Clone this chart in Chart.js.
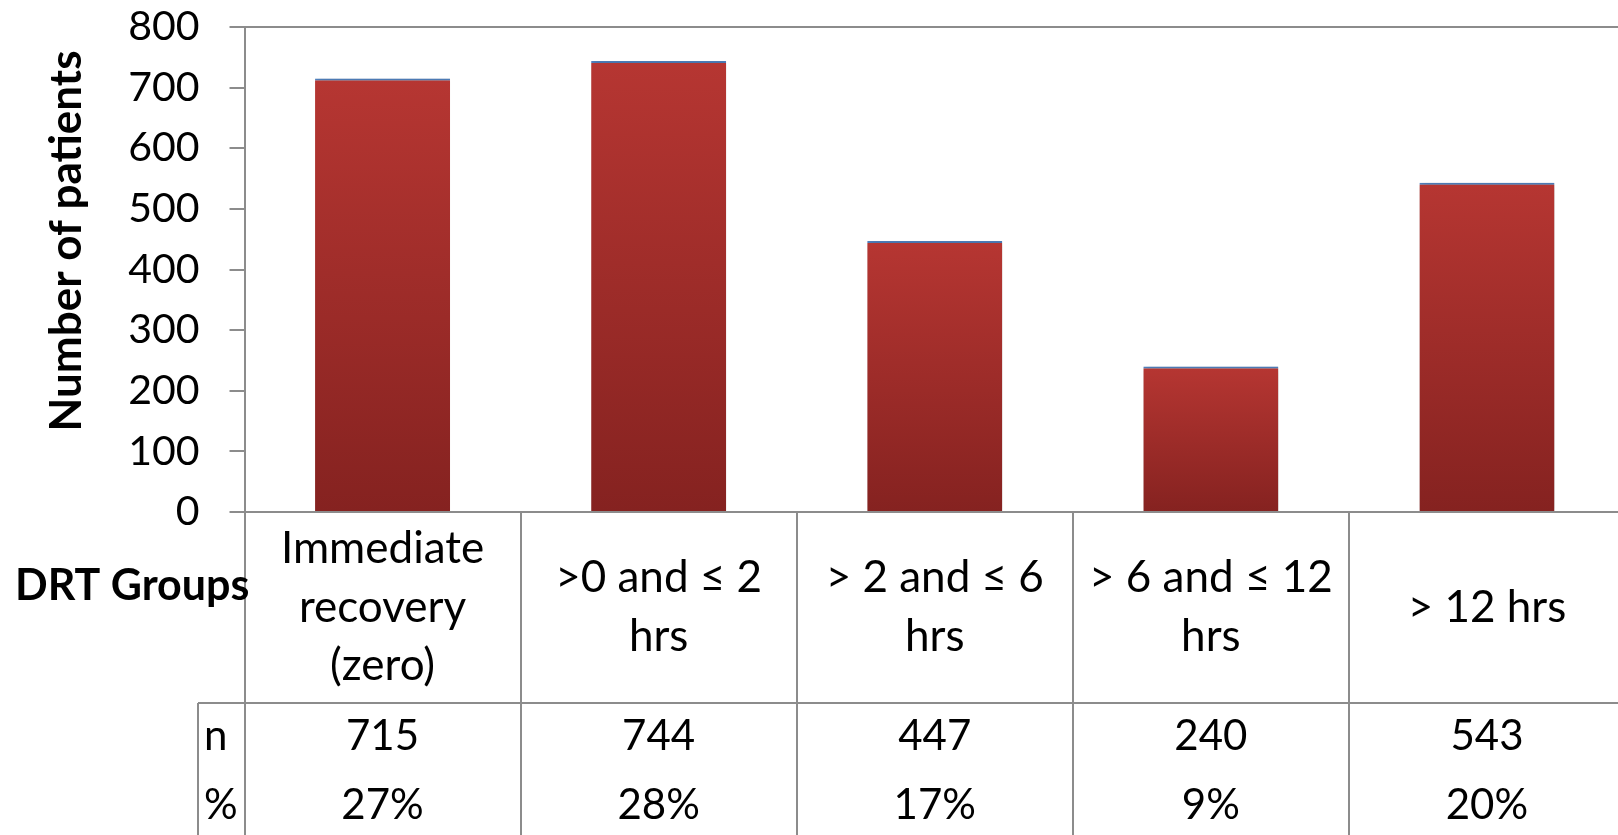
<!DOCTYPE html>
<html>
<head>
<meta charset="utf-8">
<title>DRT Groups</title>
<script src="https://cdn.jsdelivr.net/npm/chart.js@4.4.1/dist/chart.umd.min.js"></script>
<style>
  html, body { margin: 0; padding: 0; background: #fff; overflow: hidden; }
  #wrap { width: 1618px; height: 835px; overflow: hidden; }
  canvas { display: block; }
</style>
</head>
<body>
<div id="wrap"><canvas id="drt-chart" width="1626" height="835"></canvas></div>
<script>
// --- Data ---
const groupLabels = [
    ['Immediate', 'recovery', '(zero)'],
    ['>0 and \u2264 2', 'hrs'],
    ['> 2 and \u2264 6', 'hrs'],
    ['> 6 and \u2264 12', 'hrs'],
    ['> 12 hrs']
];
const patientCounts = [715, 744, 447, 240, 543];
const patientShares = ['27%', '28%', '17%', '9%', '20%'];
const rowNames = ['n', '%'];
const yMax = 800;
const yStep = 100;
// ------------

const LINE = '#8c8c8c';
const FONT = 'Lato, "Open Sans", sans-serif';

// per-bar vertical gradient, lighter red at the top
function barFill(context) {
    const chart = context.chart;
    const y = chart.scales.y;
    if (!chart.chartArea || !y) return '#a02c29';
    const top = y.getPixelForValue(patientCounts[context.dataIndex]);
    const g = chart.ctx.createLinearGradient(0, top, 0, y.getPixelForValue(0));
    g.addColorStop(0, '#b63632');
    g.addColorStop(1, '#852220');
    return g;
}

const barShadow = {
    id: 'barShadow',
    beforeDatasetsDraw(chart) {
        const ctx = chart.ctx;
        ctx.save();
        ctx.shadowColor = 'rgba(0,0,0,0.35)';
        ctx.shadowBlur = 6;
        ctx.shadowOffsetX = 2;
        ctx.shadowOffsetY = 1;
    },
    afterDatasetsDraw(chart) {
        chart.ctx.restore();
    }
};

// axis title plus the data table under the plot
const dataTable = {
    id: 'dataTable',
    afterDraw(chart) {
        const { ctx, scales: { x, y } } = chart;
        const colW = x.getPixelForValue(1) - x.getPixelForValue(0);
        const left = x.getPixelForValue(0) - colW / 2;
        const top = y.getPixelForValue(0);
        const rowLine = 703;
        const labelCol = 198;
        const bottom = chart.height;

        ctx.save();
        ctx.strokeStyle = LINE;
        ctx.lineWidth = 2;
        ctx.beginPath();
        for (let i = 0; i <= groupLabels.length; i++) {
            const px = Math.round(left + i * colW);
            ctx.moveTo(px, top);
            ctx.lineTo(px, bottom);
        }
        ctx.moveTo(labelCol, rowLine);
        ctx.lineTo(chart.width, rowLine);
        ctx.moveTo(labelCol, rowLine);
        ctx.lineTo(labelCol, bottom);
        ctx.stroke();

        ctx.fillStyle = '#000';
        ctx.textBaseline = 'middle';

        // y axis title
        ctx.save();
        ctx.translate(67, 241);
        ctx.rotate(-Math.PI / 2);
        ctx.textAlign = 'center';
        ctx.font = 'bold 44px ' + FONT;
        ctx.fillText('Number of patients', 0, 0);
        ctx.restore();

        ctx.textAlign = 'left';
        ctx.font = 'bold 43px ' + FONT;
        ctx.fillText('DRT Groups', 15, 586);

        // category names, centred in the first row
        ctx.font = '44px ' + FONT;
        ctx.textAlign = 'center';
        const lineH = 58.5;
        const mid = (top + rowLine) / 2;
        groupLabels.forEach((lines, i) => {
            const cx = x.getPixelForValue(i);
            const start = mid - (lines.length - 1) * lineH / 2;
            lines.forEach((t, j) => ctx.fillText(t, cx, start + j * lineH));
        });

        // n and % rows
        const rowY = [736, 805];
        ctx.font = '42px ' + FONT;
        ctx.textAlign = 'left';
        rowNames.forEach((r, k) => ctx.fillText(r, 204, rowY[k]));
        ctx.textAlign = 'center';
        patientCounts.forEach((v, i) => ctx.fillText(String(v), x.getPixelForValue(i), rowY[0]));
        patientShares.forEach((v, i) => ctx.fillText(v, x.getPixelForValue(i), rowY[1]));
        ctx.restore();
    }
};

new Chart(document.getElementById('drt-chart'), {
    type: 'bar',
    data: {
        labels: groupLabels.map(l => l.join(' ')),
        datasets: [{
            label: 'Number of patients',
            data: patientCounts,
            backgroundColor: barFill,
            borderColor: '#5284c2',
            borderWidth: { top: 2, left: 0, right: 0, bottom: 0 },
            borderSkipped: false,
            categoryPercentage: 1,
            barPercentage: 0.489
        }]
    },
    options: {
        responsive: false,
        animation: false,
        devicePixelRatio: 1,
        layout: { padding: { top: 27, bottom: 323, left: 0, right: 1 } },
        plugins: {
            legend: { display: false },
            tooltip: { enabled: false }
        },
        scales: {
            x: { display: false },
            y: {
                min: 0,
                max: yMax,
                afterFit(scale) {
                    scale.width = 244.5;
                    // tick padding would otherwise push the plot down
                    scale.paddingTop = 0;
                    scale.paddingBottom = 0;
                },
                ticks: {
                    stepSize: yStep,
                    color: '#000',
                    padding: 30,
                    font: { family: FONT, size: 41 }
                },
                grid: {
                    color: c => (c.tick && (c.tick.value === 0 || c.tick.value === yMax)) ? LINE : 'rgba(0,0,0,0)',
                    tickColor: LINE,
                    lineWidth: 2,
                    tickLength: 15
                },
                border: { color: LINE, width: 2 }
            }
        }
    },
    plugins: [barShadow, dataTable]
});
</script>
</body>
</html>
